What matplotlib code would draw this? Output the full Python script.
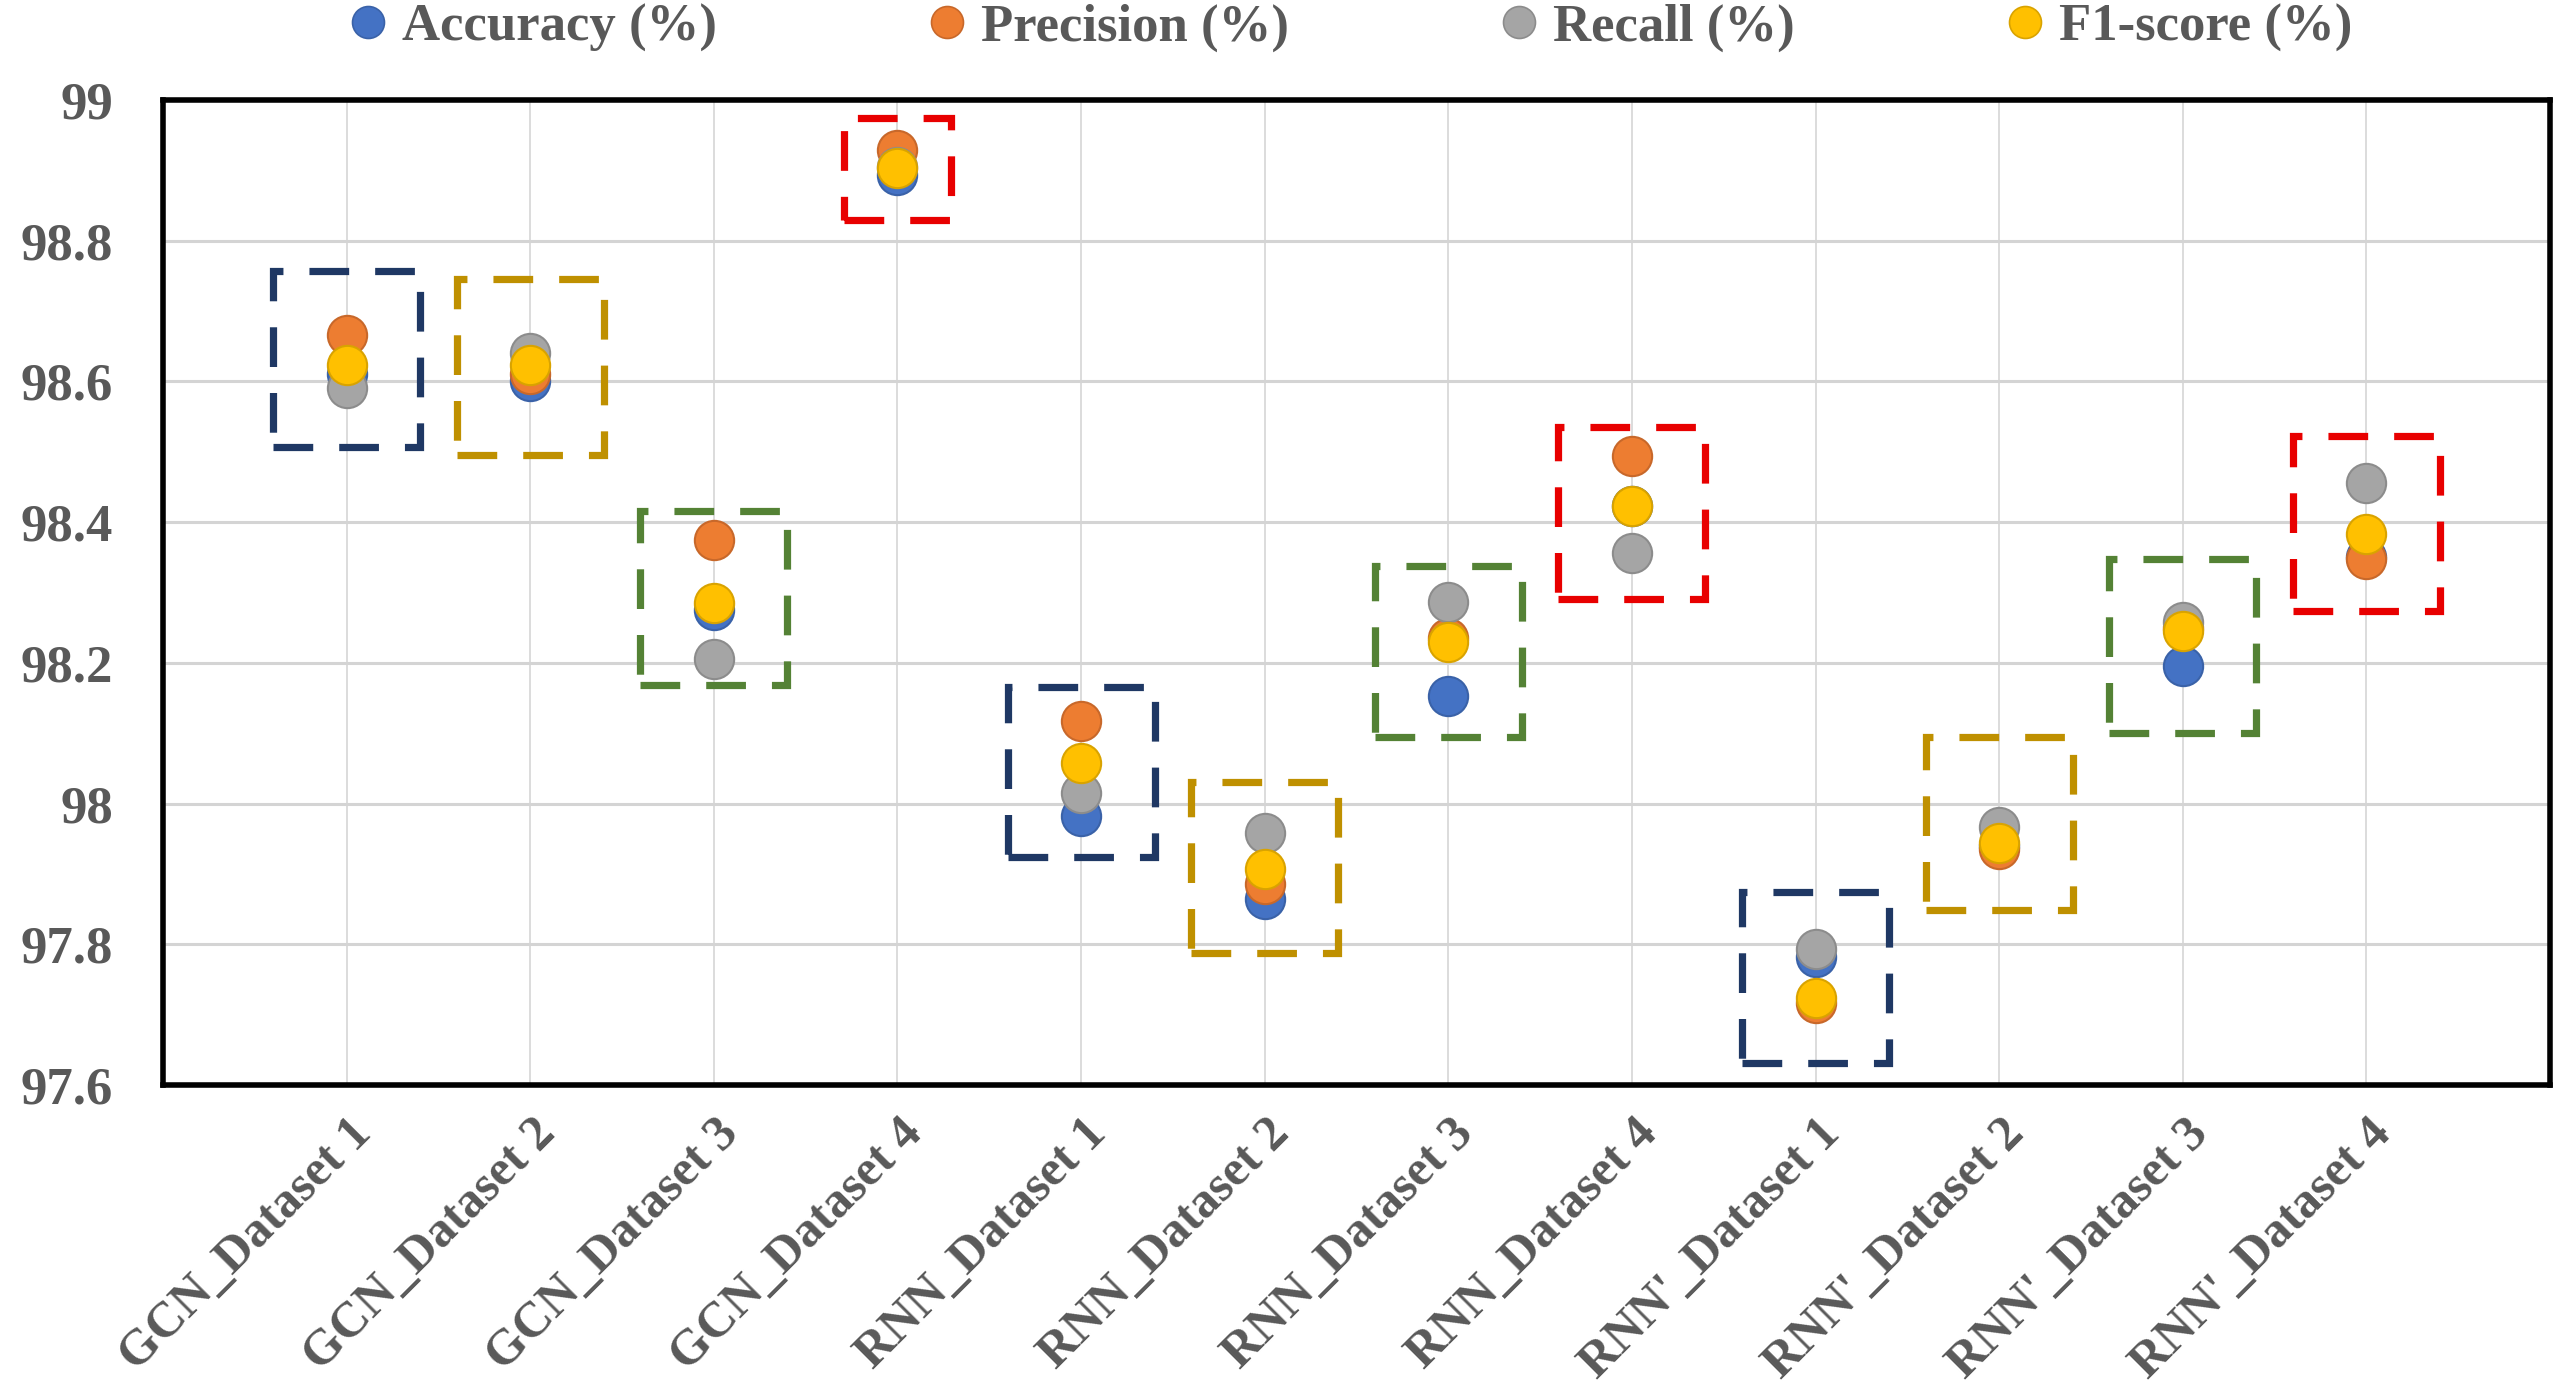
import matplotlib
matplotlib.use("Agg")
import matplotlib.pyplot as plt
from matplotlib.lines import Line2D
from matplotlib.patches import Rectangle
from matplotlib.transforms import ScaledTranslation

# ---- data ----
categories = ["GCN_Dataset 1", "GCN_Dataset 2", "GCN_Dataset 3", "GCN_Dataset 4",
              "RNN_Dataset 1", "RNN_Dataset 2", "RNN_Dataset 3", "RNN_Dataset 4",
              "RNN'_Dataset 1", "RNN'_Dataset 2", "RNN'_Dataset 3", "RNN'_Dataset 4"]

accuracy = [98.61, 98.60, 98.275, 98.893, 97.983, 97.864, 98.153, 98.423,
            97.782, 97.94, 98.195, 98.35]
precision = [98.666, 98.611, 98.375, 98.929, 98.118, 97.885, 98.235, 98.494,
             97.717, 97.935, 98.25, 98.347]
recall = [98.59, 98.64, 98.205, 98.905, 98.015, 97.958, 98.286, 98.356,
          97.794, 97.967, 98.258, 98.455]
f1_score = [98.623, 98.623, 98.285, 98.903, 98.058, 97.907, 98.23, 98.423,
            97.723, 97.944, 98.245, 98.383]

series_names = ["Accuracy (%)", "Precision (%)", "Recall (%)", "F1-score (%)"]

# dashed highlight boxes (value range per category)
box_low = [98.507, 98.495, 98.168, 98.829, 97.924, 97.788, 98.094, 98.291,
           97.631, 97.849, 98.101, 98.273]
box_high = [98.757, 98.745, 98.416, 98.974, 98.166, 98.031, 98.337, 98.535,
            97.874, 98.095, 98.347, 98.522]
box_halfwidth = [0.40, 0.40, 0.40, 0.29, 0.40, 0.40, 0.40, 0.40,
                 0.40, 0.40, 0.40, 0.40]

yticks = [97.6, 97.8, 98.0, 98.2, 98.4, 98.6, 98.8, 99.0]
ytick_labels = ["97.6", "97.8", "98", "98.2", "98.4", "98.6", "98.8", "99"]

# ---- styles ----
series_colors = ["#4472C4", "#ED7D31", "#A5A5A5", "#FFC000"]
edge_colors = ["#3A62A8", "#C8682A", "#8C8C8C", "#D9A300"]
box_colors = ["#1F3864", "#BF9000", "#548235", "#E80000"]
text_color = "#595959"
font = "Liberation Serif"

fig = plt.figure(figsize=(25.59, 13.89), dpi=100)
ax = fig.add_axes([163 / 2559, 1 - 1085 / 1389, (2550 - 163) / 2559, (1085 - 100) / 1389])

x = list(range(1, len(categories) + 1))
all_series = [accuracy, precision, recall, f1_score]
for i, vals in enumerate(all_series):
    ax.scatter(x, vals, s=800, color=series_colors[i], edgecolors=edge_colors[i],
               linewidths=1.5, zorder=3 + i)

for i, xi in enumerate(x):
    hw = box_halfwidth[i]
    rect = Rectangle((xi - hw, box_low[i]), 2 * hw, box_high[i] - box_low[i],
                     fill=False, edgecolor=box_colors[i % 4], linewidth=5.2,
                     linestyle=(0, (5.5, 3.6)), zorder=2)
    ax.add_patch(rect)

ax.set_xlim(0, 13)
ax.set_ylim(97.6, 99.0)
ax.set_xticks(x)
ax.set_xticklabels(categories)
ax.set_yticks(yticks)
ax.set_yticklabels(ytick_labels)

ax.grid(axis="y", color="#D4D4D4", linewidth=2.2, zorder=0)
ax.grid(axis="x", color="#D9D9D9", linewidth=1.3, zorder=0)
ax.set_axisbelow(True)
for sp in ax.spines.values():
    sp.set_linewidth(4)
    sp.set_color("black")

ax.tick_params(axis="both", length=0)
ax.tick_params(axis="y", pad=36)
ax.tick_params(axis="x", pad=30)
for lab in ax.get_yticklabels():
    lab.set_fontfamily(font)
    lab.set_fontweight("bold")
    lab.set_fontsize(38)
    lab.set_color(text_color)
for lab in ax.get_xticklabels():
    lab.set_fontfamily(font)
    lab.set_fontweight("bold")
    lab.set_fontsize(36)
    lab.set_color(text_color)
    lab.set_rotation(45)
    lab.set_ha("right")
    lab.set_va("center")
    lab.set_rotation_mode("anchor")
    lab.set_transform(lab.get_transform() + ScaledTranslation(0.18, 0, fig.dpi_scale_trans))

handles = [Line2D([], [], linestyle="none", marker="o", markersize=23,
                  markerfacecolor=series_colors[i], markeredgecolor=edge_colors[i],
                  markeredgewidth=1.2) for i in range(4)]
fig.legend(handles, series_names, loc="center", bbox_to_anchor=(1351 / 2559, 1 - 28 / 1389),
           ncol=4, frameon=False, handlelength=0.7, handletextpad=0.3, columnspacing=4.0,
           prop={"family": font, "weight": "bold", "size": 38}, labelcolor=text_color)

fig.savefig("out.png", dpi=100)
